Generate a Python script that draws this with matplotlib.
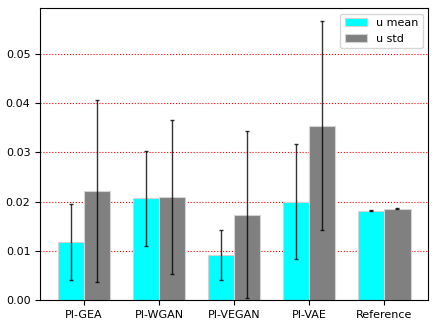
import matplotlib
matplotlib.use("Agg")
import matplotlib.pyplot as plt
import numpy as np

categories = ["PI-GEA", "PI-WGAN", "PI-VEGAN", "PI-VAE", "Reference"]
u_mean = [0.0118, 0.0207, 0.0092, 0.0200, 0.0182]
u_mean_err = [0.0077, 0.0096, 0.0051, 0.0117, 0.0001]
u_std = [0.0222, 0.0210, 0.0174, 0.0354, 0.0186]
u_std_err = [0.0185, 0.0156, 0.0169, 0.0212, 0.0001]

fig = plt.figure(figsize=(4.36, 3.27), dpi=100)
ax = fig.add_axes([0.092, 0.082, 0.89, 0.893])
x = np.arange(len(categories))
w = 0.35
ax.set_axisbelow(True)
ax.yaxis.grid(True, color="red", linestyle=":", linewidth=0.8)
ax.bar(x - w / 2, u_mean, w, yerr=u_mean_err, color="cyan", edgecolor="lightgray",
       linewidth=0.8, capsize=1.5, error_kw=dict(ecolor="black", elinewidth=1, alpha=0.8),
       label="u mean")
ax.bar(x + w / 2, u_std, w, yerr=u_std_err, color="gray", edgecolor="lightgray",
       linewidth=0.8, capsize=1.5, error_kw=dict(ecolor="black", elinewidth=1, alpha=0.8),
       label="u std")
ax.set_xticks(x)
ax.set_xticklabels(categories, fontsize=8)
ax.tick_params(axis="y", labelsize=8)
ax.set_ylim(0, 0.0593)
ax.set_yticks([0.0, 0.01, 0.02, 0.03, 0.04, 0.05])
ax.set_yticklabels(["0.00", "0.01", "0.02", "0.03", "0.04", "0.05"])
ax.legend(loc="upper right", fontsize=8)
fig.savefig("out.png", dpi=100)
